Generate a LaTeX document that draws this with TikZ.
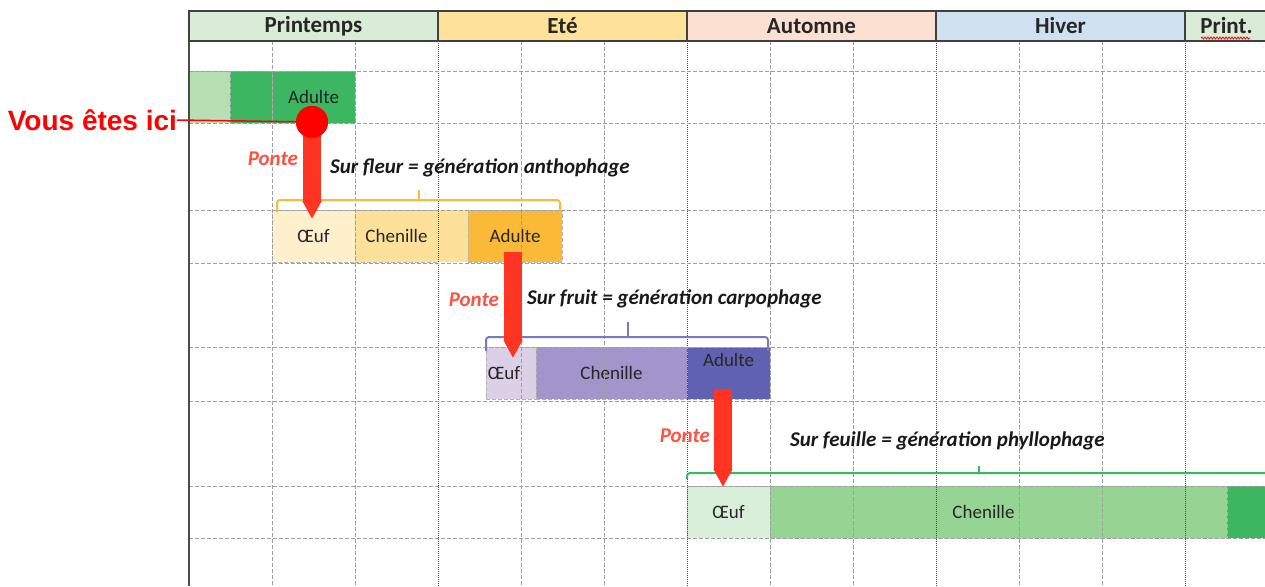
\documentclass[tikz,border=0pt]{standalone}
\usepackage{fontspec}
\setmainfont{Carlito}
\newfontfamily\arialfont{Liberation Sans}
\usepackage{tikz}
\usetikzlibrary{positioning, arrows.meta, decorations.pathmorphing}
\definecolor{vertClair}{RGB}{182,224,180}
\definecolor{vertFonce}{RGB}{60,182,96}
\definecolor{jauneOeuf}{RGB}{255,240,204}
\definecolor{jauneChen}{RGB}{253,225,154}
\definecolor{orangeAd}{RGB}{251,185,56}
\definecolor{mauveOeuf}{RGB}{220,208,231}
\definecolor{mauveChen}{RGB}{163,148,203}
\definecolor{mauveAd}{RGB}{97,97,177}
\definecolor{vertOeuf}{RGB}{217,239,217}
\definecolor{vertChen}{RGB}{150,212,147}
\definecolor{hdPrint}{RGB}{217,236,213}
\definecolor{hdEte}{RGB}{254,226,153}
\definecolor{hdAut}{RGB}{252,224,210}
\definecolor{hdHiv}{RGB}{207,224,241}
\definecolor{rougePonte}{RGB}{255,52,34}
\tikzset{
    x=1pt, y=-1pt, % one unit is one pixel of the chart, y going down
    every node/.style={inner sep=0pt, outer sep=0pt}, % cells sit exactly on the grid
    cellTxt/.style={text=black!85, font=\fontsize{19}{22}\selectfont}, % text inside a block
    cell/.style={draw=gray!60, dash pattern=on 4pt off 2pt, anchor=north west, minimum height=52pt, cellTxt}, % one coloured block of a generation
    season/.style={draw=black!75, line width=1.5pt, anchor=north west, minimum height=30pt, minimum width=249pt, text=black!85, font=\fontsize{23}{26}\selectfont\bfseries}, % header cell
}
\begin{document}
\begin{tikzpicture}[
                    monthline/.style={gray!75, line width=0.8pt, dash pattern=on 4pt off 2pt},
                    seasonline/.style={black!70, line width=0.9pt, dash pattern=on 1pt off 1pt},
                    ponte/.style={draw=rougePonte, line width=18pt, -{Triangle[width=18pt, length=18pt]}},
                    ponteTxt/.style={text=rougePonte!85!white, font=\fontsize{21}{24}\selectfont\bfseries\itshape},
                    caption/.style={anchor=west, text=black!90, font=\fontsize{21}{24}\selectfont\bfseries\itshape},
                    bracket/.style={line width=2pt, rounded corners=3pt},
                ]
    \clip (0,0) rectangle (1265,586);

    % generation 0 (adult of the spring)
    \node[cell, fill=vertClair, minimum width=41pt] (g0a) at (189,71) {};
    \node[cell, fill=vertFonce, minimum width=43pt] (g0b) at (230,71) {};
    \node[cell, fill=vertFonce, minimum width=83pt] (adulte0) at (272,71) {Adulte};

    % generation 1
    \node[cell, fill=jauneOeuf, minimum width=83pt] (oeuf1) at (272,210) {Œuf};
    \node[cell, fill=jauneChen, minimum width=83pt] (chen1) at (355,210) {Chenille};
    \node[cell, fill=jauneChen, draw=none, minimum width=30pt] (chen1b) at (438,210) {};
    \node[cell, fill=orangeAd, minimum width=94pt] (adulte1) at (468,210) {Adulte};

    % generation 2
    \node[cell, fill=mauveOeuf, minimum width=50pt, label={[cellTxt, xshift=-7pt]center:Œuf}] (oeuf2) at (486,347) {};
    \node[cell, fill=mauveChen, minimum width=151pt] (chen2) at (536,347) {Chenille};
    \node[cell, fill=mauveAd, minimum width=83pt, label={[cellTxt, yshift=13pt]center:Adulte}] (adulte2) at (687,347) {};

    % generation 3
    \node[cell, fill=vertOeuf, minimum width=83pt] (oeuf3) at (687,486) {Œuf};
    \node[cell, fill=vertChen, minimum width=457pt, label={[cellTxt, xshift=-15pt]center:Chenille}] (chen3) at (770,486) {};
    \node[cell, fill=vertFonce, minimum width=45pt] (adulte3) at (1227,486) {};

    % grid
    \foreach \k in {1,2,4,5,7,8,10,11,13}
        \draw[monthline] (189+83*\k,41) -- (189+83*\k,586);
    \foreach \k in {3,6,9,12}
        \draw[seasonline] (189+83*\k,41) -- (189+83*\k,586);
    \foreach \y in {71,123,210,263,347,401,486,538}
        \draw[monthline] (189,\y) -- (1265,\y);
    \draw[black!70, line width=1.5pt] (189,11) -- (189,586);

    % header
    \node[season, fill=hdPrint] (printemps) at (189,11) {Printemps};
    \node[season, fill=hdEte] (ete) at (438,11) {Eté};
    \node[season, fill=hdAut] (automne) at (687,11) {Automne};
    \node[season, fill=hdHiv] (hiver) at (936,11) {Hiver};
    \node[season, fill=hdPrint, minimum width=83pt] (print) at (1185,11) {Print.};
    \draw[red, line width=0.8pt, decorate, decoration={snake, amplitude=1pt, segment length=3pt}] (1201,38) -- (1250,38);

    % brackets over each generation
    \draw[bracket, orangeAd] (277,212) |- (560,200) -- (560,212);
    \draw[bracket, orangeAd] (419,200) -- (419,190);
    \draw[bracket, mauveAd!85!white] (486,351) |- (768,337) -- (768,351);
    \draw[bracket, mauveAd!85!white] (628,337) -- (628,322);
    \draw[bracket, vertFonce] (687,479) |- (1270,473);
    \draw[bracket, vertFonce] (979,473) -- (979,466);

    \node[caption] (fleur) at (330,168) {Sur fleur = génération anthophage};
    \node[caption] (fruit) at (527,299) {Sur fruit = génération carpophage};
    \node[caption] (feuille) at (790,441) {Sur feuille = génération phyllophage};

    % egg laying
    \node[circle, fill=red, minimum size=32pt] (dot) at (312,122) {};
    \draw[ponte] (dot.center) -- node[ponteTxt, pos=0.38, left=14pt] {Ponte} ([yshift=-9pt]dot.center |- oeuf1.north);
    \draw[ponte] ([xshift=-2pt, yshift=10pt]adulte1.south) -- node[ponteTxt, pos=0.45, left=14pt] {Ponte} ([xshift=-2pt, yshift=-11pt]adulte1.south |- oeuf2.north);
    \draw[ponte] ([xshift=-5.5pt, yshift=10pt]adulte2.south) -- node[ponteTxt, pos=0.48, left=13pt] {Ponte} ([xshift=-5.5pt, yshift=-1pt]adulte2.south |- oeuf3.north);
    \node[circle, fill=red, minimum size=32pt] at (dot) {};

    \node[anchor=east, text=red, font=\arialfont\fontsize{28}{32}\selectfont\bfseries] (ici) at (177,120) {Vous êtes ici};
    \draw[red, line width=1.5pt] (ici.east) -- (dot);
\end{tikzpicture}
\end{document}
